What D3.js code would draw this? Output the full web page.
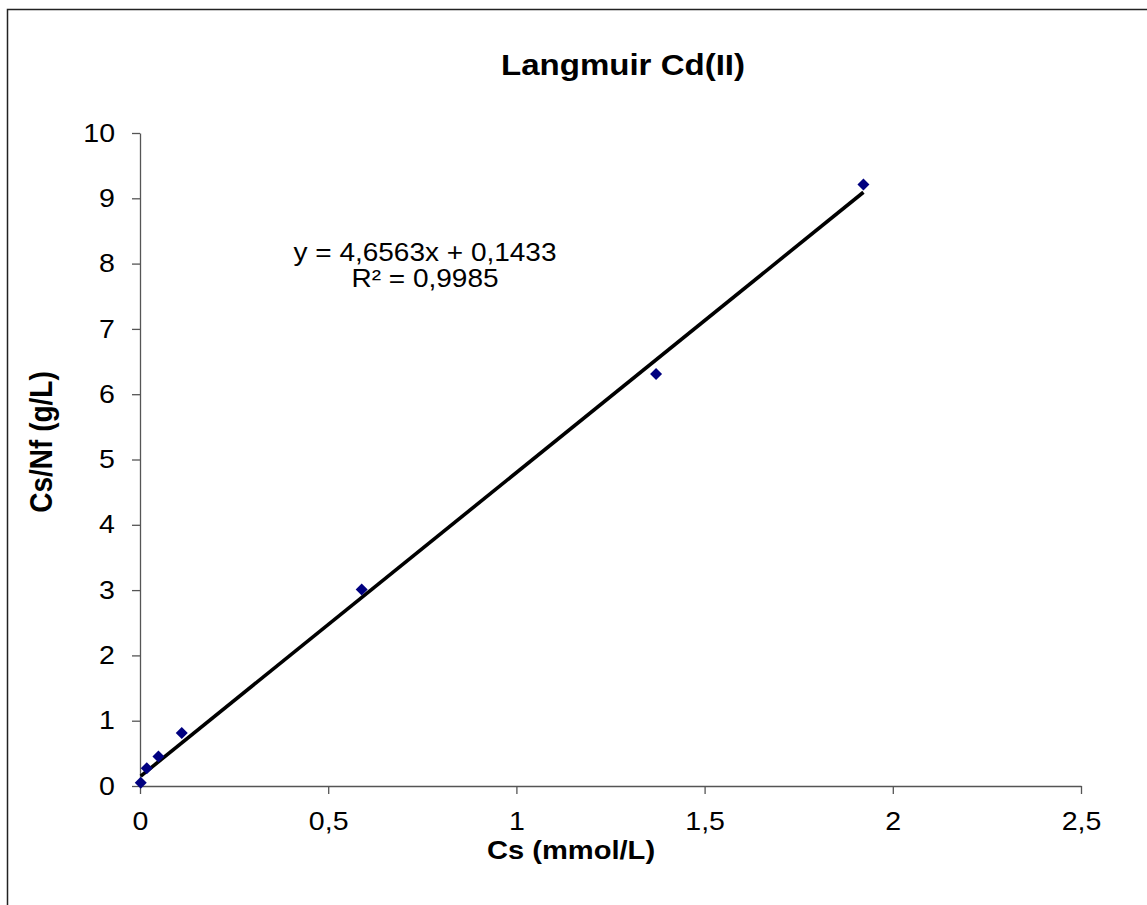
<!DOCTYPE html>
<html lang="en">
<head>
  <meta charset="UTF-8">
  <title>Langmuir Cd(II)</title>
  <script src="https://cdn.jsdelivr.net/npm/d3@7/dist/d3.min.js"></script>
  <style>
    body { margin: 0; background: #fff; }
    text { font-family: "Liberation Sans", Arial, sans-serif; fill: #000; }
  </style>
</head>
<body>
<script>
// measured points (Cs, Cs/Nf)
var csValues = [0.002, 0.018, 0.049, 0.111, 0.589, 1.371, 1.922];
var ratioValues = [0.05, 0.27, 0.45, 0.81, 3.01, 6.31, 9.21];
var xTicks = [0, 0.5, 1, 1.5, 2, 2.5];
var yTicks = [0, 1, 2, 3, 4, 5, 6, 7, 8, 9, 10];
var slope = 4.6563;
var intercept = 0.1433;
var equationLines = ['y = 4,6563x + 0,1433', 'R\u00b2 = 0,9985'];

var width = 1147, height = 905;
var stretch = 1.12; // source picture is wider than tall text
var plotLeft = 140, plotRight = 1081, plotTop = 133, plotBottom = 786;

var svg = d3.select('body').append('svg')
  .attr('width', width)
  .attr('height', height);

// chart frame
svg.append('rect')
  .attr('x', 7.5).attr('y', 9.5)
  .attr('width', 1200).attr('height', 1000)
  .attr('fill', 'none')
  .attr('stroke', '#222')
  .attr('stroke-width', 1.5);

var x = d3.scaleLinear().domain([0, 2.5]).range([plotLeft, plotRight]);
var y = d3.scaleLinear().domain([0, 10]).range([plotBottom, plotTop]);

function comma(d) {
  return String(d).replace('.', ',');
}

var xAxis = svg.append('g')
  .attr('transform', 'translate(0,' + plotBottom + ')')
  .call(d3.axisBottom(x).tickValues(xTicks).tickFormat(comma).tickSize(8).tickSizeOuter(0));
xAxis.selectAll('text')
  .attr('y', 26)
  .attr('dy', '0.71em')
  .attr('font-size', 25.5)
  .attr('transform', 'scale(' + stretch + ',1)');

var yAxis = svg.append('g')
  .attr('transform', 'translate(' + plotLeft + ',0)')
  .call(d3.axisLeft(y).tickValues(yTicks).tickFormat(comma).tickSize(8).tickSizeOuter(0));
yAxis.selectAll('text')
  .attr('x', -25 / stretch)
  .attr('font-size', 25.5)
  .attr('transform', 'scale(' + stretch + ',1)');

svg.selectAll('.domain, .tick line')
  .attr('stroke', '#555')
  .attr('stroke-width', 1.3);

// trend line over the data range
var xMin = d3.min(csValues), xMax = d3.max(csValues);
svg.append('line')
  .attr('x1', x(xMin)).attr('y1', y(slope * xMin + intercept))
  .attr('x2', x(xMax)).attr('y2', y(slope * xMax + intercept))
  .attr('stroke', '#000')
  .attr('stroke-width', 3.6);

var points = csValues.map(function (d, i) {
  return { x: d, y: ratioValues[i] };
});
svg.selectAll('path.point')
  .data(points)
  .enter()
  .append('path')
  .attr('class', 'point')
  .attr('d', d3.symbol().type(d3.symbolSquare).size(72))
  .attr('fill', '#000080')
  .attr('transform', function (d) {
    return 'translate(' + x(d.x) + ',' + y(d.y) + ') rotate(45)';
  });

// texts
svg.append('text')
  .attr('transform', 'translate(623,75) scale(' + stretch + ',1)')
  .attr('text-anchor', 'middle')
  .attr('font-size', 29.5)
  .attr('font-weight', 'bold')
  .text('Langmuir Cd(II)');

svg.append('text')
  .attr('transform', 'translate(571,859) scale(' + stretch + ',1)')
  .attr('text-anchor', 'middle')
  .attr('font-size', 26)
  .attr('font-weight', 'bold')
  .text('Cs (mmol/L)');

svg.append('text')
  .attr('transform', 'translate(52,442) scale(' + stretch + ',1) rotate(-90)')
  .attr('text-anchor', 'middle')
  .attr('font-size', 28)
  .attr('font-weight', 'bold')
  .text('Cs/Nf (g/L)');

svg.selectAll('text.eq')
  .data(equationLines)
  .enter()
  .append('text')
  .attr('class', 'eq')
  .attr('transform', function (d, i) {
    return 'translate(425,' + (261 + i * 26) + ') scale(' + stretch + ',1)';
  })
  .attr('text-anchor', 'middle')
  .attr('font-size', 25)
  .text(function (d) { return d; });
</script>
</body>
</html>
